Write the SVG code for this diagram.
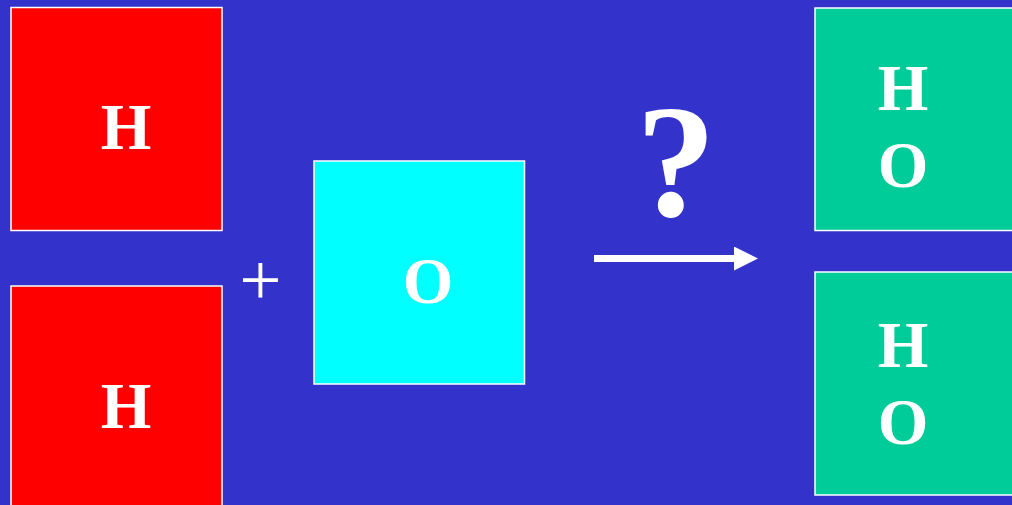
<svg xmlns="http://www.w3.org/2000/svg" width="1012" height="505" viewBox="0 0 1012 505">
<style>
.box{stroke:#ffffff;stroke-width:1.5}
.lbl{font-family:"Liberation Serif","Times New Roman",serif;font-weight:bold;font-size:65px;fill:#ffffff;text-anchor:middle}
</style>
<defs>
<marker id="ah" viewBox="0 0 24 24" refX="0" refY="12" markerWidth="24" markerHeight="24" markerUnits="userSpaceOnUse" orient="auto">
<polygon points="0,0 24,12 0,24" fill="#ffffff"/>
</marker>
</defs>
<rect width="1012" height="505" fill="#3333CC"/>
<g id="h1">
<rect class="box" x="11" y="7.5" width="211" height="223" fill="#FF0000"/>
<text class="lbl" x="126" y="149">H</text>
</g>
<g id="h2">
<rect class="box" x="11" y="286" width="211" height="224" fill="#FF0000"/>
<text class="lbl" x="126" y="427.5">H</text>
</g>
<g id="plus">
<text x="260.5" y="305" font-family="Liberation Serif, serif" font-size="75" fill="#ffffff" text-anchor="middle">+</text>
</g>
<g id="o">
<rect class="box" x="314" y="161" width="210.5" height="223" fill="#00FFFF"/>
<text class="lbl" x="428" y="303">O</text>
</g>
<g id="q">
<text x="676" y="216" font-family="Liberation Serif, serif" font-weight="bold" font-size="160" fill="#ffffff" text-anchor="middle">?</text>
</g>
<g id="connectors">
<line x1="594" y1="258.5" x2="734" y2="258.5" stroke="#ffffff" stroke-width="7" marker-end="url(#ah)"/>
</g>
<g id="ho1">
<rect class="box" x="815" y="8" width="211" height="222.5" fill="#00CC99"/>
<text class="lbl" x="903" y="110">H</text>
<text class="lbl" x="903" y="187">O</text>
</g>
<g id="ho2">
<rect class="box" x="815" y="272" width="211" height="223" fill="#00CC99"/>
<text class="lbl" x="903" y="367">H</text>
<text class="lbl" x="903" y="444">O</text>
</g>
</svg>
